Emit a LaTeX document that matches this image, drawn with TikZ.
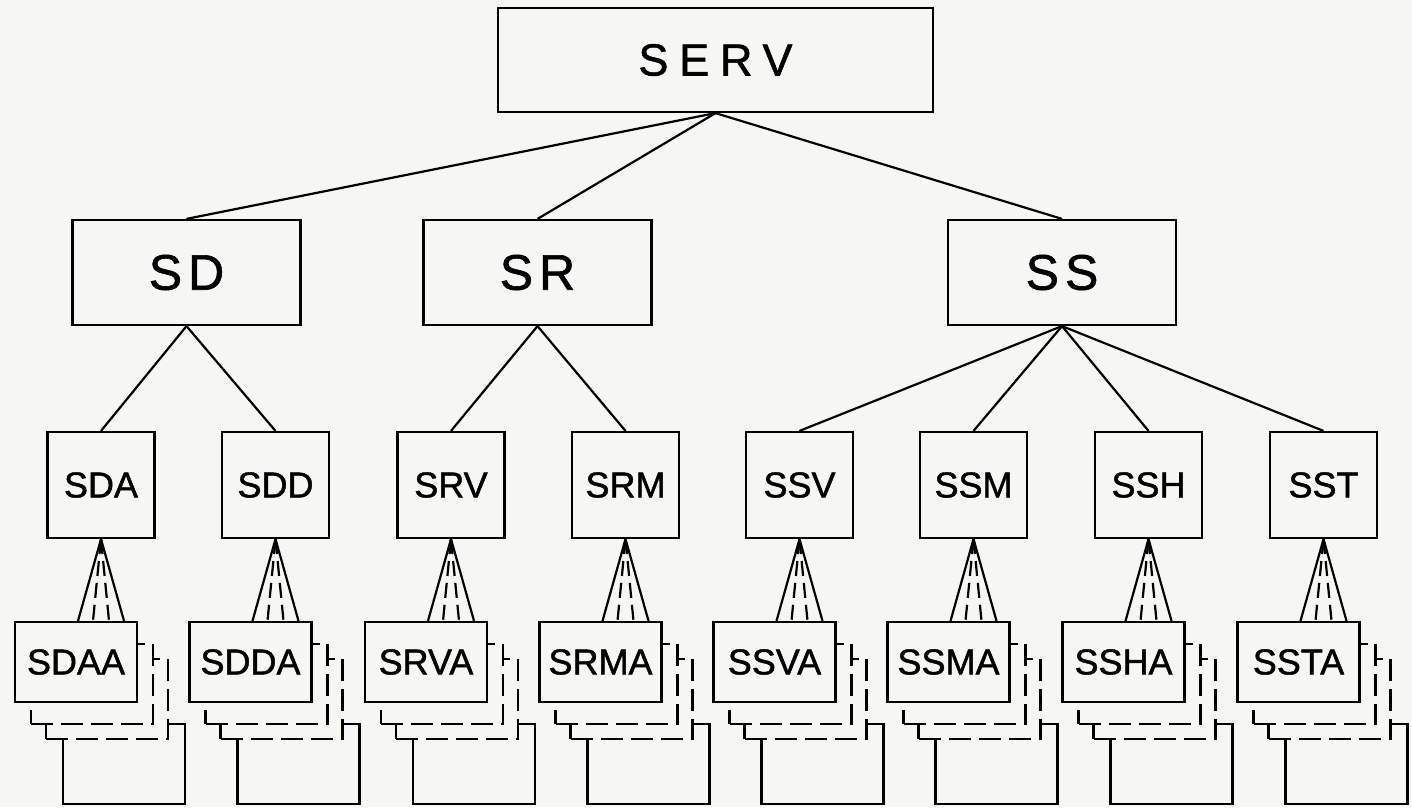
\documentclass[tikz,border=0pt]{standalone}
\usepackage{fontspec}
\setmainfont{Liberation Sans}[FakeBold=1.2]
\usetikzlibrary{calc}
\definecolor{paper}{RGB}{246,246,242}
\begin{document}
\begin{tikzpicture}[x=1pt,y=-1pt,line width=2.2pt,
  topbox/.style={draw,fill=paper,inner sep=0pt,minimum width=435pt,minimum height=104pt,
    font=\fontsize{45}{50}\selectfont\addfontfeatures{LetterSpace=24}},
  midbox/.style={draw,fill=paper,inner sep=0pt,minimum width=228pt,minimum height=105pt,
    font=\fontsize{50}{55}\selectfont\addfontfeatures{LetterSpace=12}},
  smallbox/.style={draw,fill=paper,inner sep=0pt,minimum width=107pt,minimum height=106pt,
    font=\fontsize{36}{40}\selectfont},
  leafbox/.style={draw,fill=paper,inner sep=0pt,minimum width=122pt,minimum height=80pt,
    font=\fontsize{36}{40}\selectfont},
  backbox/.style={leafbox,dash pattern=on 22pt off 8pt},
  dashline/.style={dash pattern=on 15pt off 7pt}]
\fill[paper] (0,0) rectangle (1412,807);
\useasboundingbox (0,0) rectangle (1412,807);

\node[topbox] (serv) at (715.5,60) {SERV};
\node[midbox] (sd) at (186.5,272.5) {SD};
\node[midbox] (sr) at (537.5,272.5) {SR};
\node[midbox] (ss) at (1062,272.5) {SS};
\draw (serv.south) -- (sd.north);
\draw (serv.south) -- (sr.north);
\draw (serv.south) -- (ss.north);

\foreach \n/\t/\p/\x in {sda/SDA/sd/101, sdd/SDD/sd/275.5, srv/SRV/sr/451, srm/SRM/sr/625.5,
  ssv/SSV/ss/799.5, ssm/SSM/ss/973.5, ssh/SSH/ss/1148.5, sst/SST/ss/1323.5}{
  \node[smallbox] (\n) at (\x,485) {\t};
  \draw (\p.south) -- (\n.north);
  \node[leafbox] (\n-b4) at (\x+23,764) {};
  \node[backbox] (\n-b3) at (\x+6,699) {};
  \node[backbox] (\n-b2) at (\x-9,684) {};
  \node[leafbox] (\n-f) at (\x-25,662) {\t A};
  \draw (\n.south) -- ($(\n.south |- \n-f.north)+(-23,0)$);
  \draw (\n.south) -- ($(\n.south |- \n-f.north)+(23,0)$);
  \draw[dashline] (\n.south) -- ($(\n.south |- \n-f.north)+(-8,0)$);
  \draw[dashline] (\n.south) -- ($(\n.south |- \n-f.north)+(8,0)$);
}
\end{tikzpicture}
\end{document}
